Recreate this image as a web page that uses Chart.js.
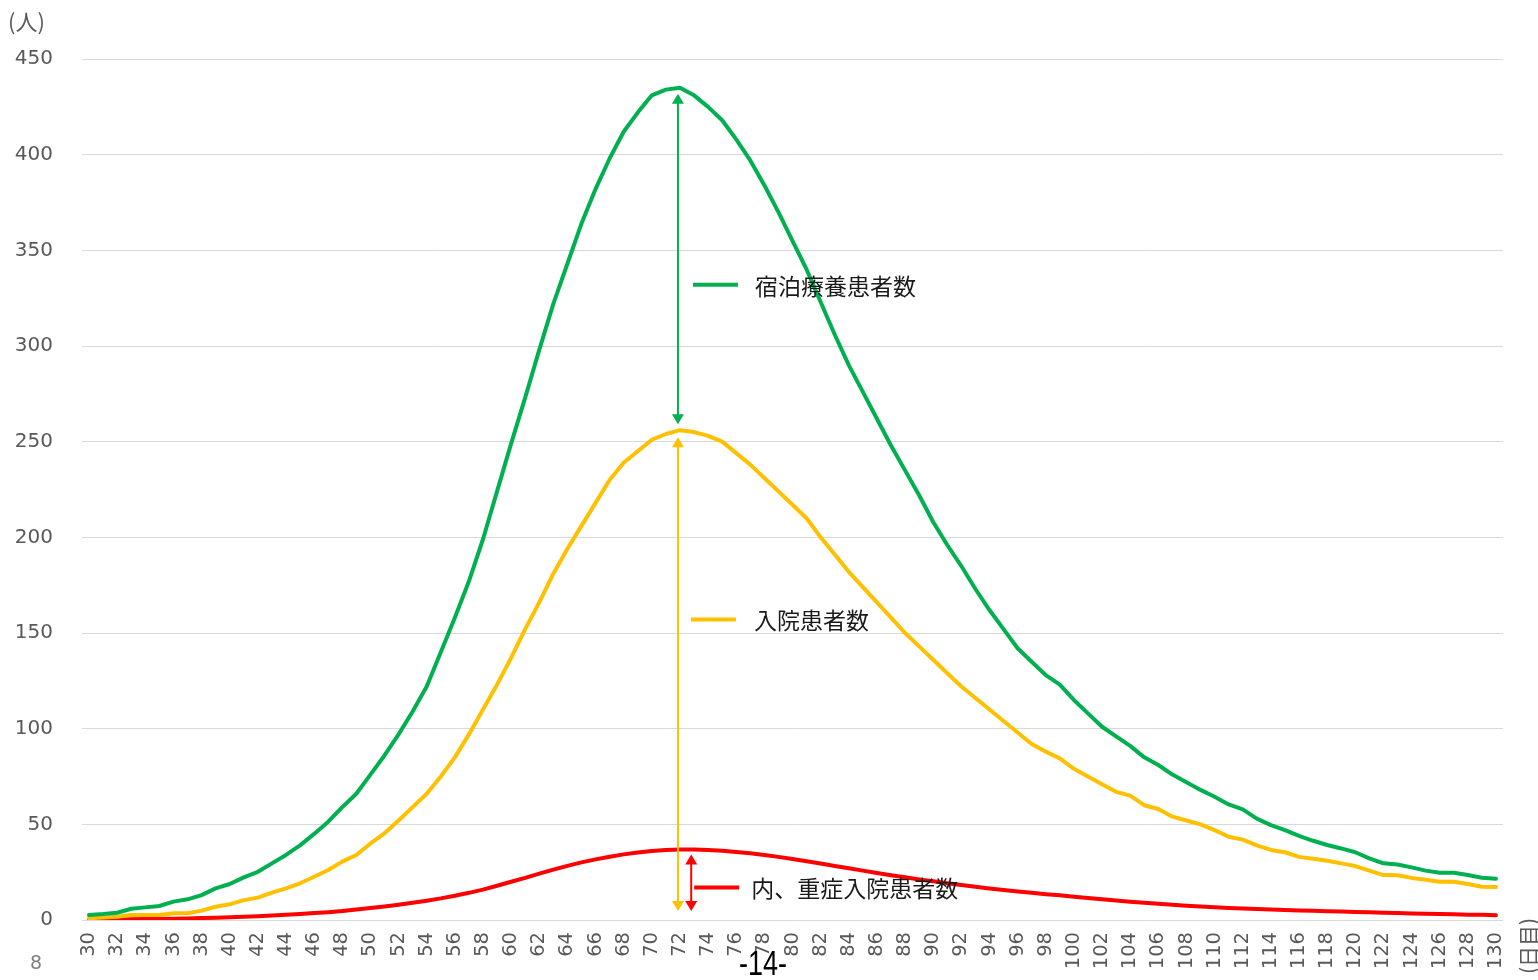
<!DOCTYPE html>
<html>
<head>
<meta charset="utf-8">
<script src="https://cdn.jsdelivr.net/npm/chart.js@4.4.1/dist/chart.umd.min.js"></script>
<style>
  html, body { margin: 0; padding: 0; background: #ffffff; overflow: hidden; }
  #wrap { position: relative; width: 1538px; height: 980px; }
</style>
</head>
<body>
<div id="wrap"><canvas id="c" width="1538" height="980"></canvas></div>
<script>
// 経過日数（日目）
const days = [
  30, 31, 32, 33, 34, 35, 36, 37, 38, 39,
  40, 41, 42, 43, 44, 45, 46, 47, 48, 49,
  50, 51, 52, 53, 54, 55, 56, 57, 58, 59,
  60, 61, 62, 63, 64, 65, 66, 67, 68, 69,
  70, 71, 72, 73, 74, 75, 76, 77, 78, 79,
  80, 81, 82, 83, 84, 85, 86, 87, 88, 89,
  90, 91, 92, 93, 94, 95, 96, 97, 98, 99,
  100, 101, 102, 103, 104, 105, 106, 107, 108, 109,
  110, 111, 112, 113, 114, 115, 116, 117, 118, 119,
  120, 121, 122, 123, 124, 125, 126, 127, 128, 129, 130
];

// 宿泊療養患者数（人）
const lodging = [
  2.6, 3.1, 3.8, 5.9, 6.6, 7.3, 9.6, 10.8, 13, 16.5,
  18.8, 22.3, 25.2, 29.6, 34, 39, 45, 51.4, 59, 66,
  76, 86, 97, 109, 122, 140, 158, 177, 199, 224,
  249, 273, 298, 322, 343, 364, 382, 398, 412, 422,
  431, 434, 435, 431, 425, 418, 408, 397, 384, 370,
  355, 340, 323, 306, 290, 276, 262, 248, 235, 222,
  208, 196, 185, 173, 162, 152, 142, 135, 128, 123,
  115, 108, 101, 96, 91, 85, 81, 76, 72, 68,
  64.4, 60.4, 57.8, 53, 49.6, 47, 44, 41.4, 39.2, 37.4,
  35.4, 32.2, 29.6, 29, 27.5, 25.8, 24.7, 24.7, 23.5, 22.1, 21.6
];

// 入院患者数（人）
const hospital = [
  0.9, 1.3, 1.7, 2.6, 2.6, 2.6, 3.5, 3.5, 4.9, 6.9,
  8.2, 10.4, 11.7, 14.3, 16.5, 19.2, 22.6, 26.1, 30.5, 34,
  40, 45.3, 52, 59, 66, 75, 85, 97, 110, 123,
  137, 152, 166, 181, 194, 206, 218, 230, 239, 245,
  251, 254, 256, 255, 253, 250, 244, 238, 231, 224,
  217, 210, 200, 191, 182, 174, 166, 158, 150, 143,
  136, 129, 122, 116, 110, 104, 98, 92, 88, 84.5,
  79, 75, 71, 67, 65, 60, 58, 54, 52, 50,
  47, 43.5, 42, 39, 36.6, 35.4, 33, 32, 31, 29.6,
  28.2, 25.8, 23.5, 23.4, 22, 21, 20, 20, 18.8, 17.4, 17.2
];

// 内、重症入院患者数（人）
const severe = [
  0.3, 0.3, 0.4, 0.4, 0.5, 0.6, 0.7, 0.8, 1.0, 1.2,
  1.4, 1.7, 2.0, 2.3, 2.7, 3.1, 3.6, 4.1, 4.7, 5.5,
  6.3, 7.1, 8.0, 9.0, 10.1, 11.3, 12.7, 14.2, 15.9, 17.9,
  20.0, 22.0, 24.2, 26.3, 28.3, 30.1, 31.7, 33.1, 34.3, 35.3,
  36.1, 36.6, 36.9, 36.9, 36.6, 36.2, 35.6, 34.9, 34.0, 33.0,
  31.9, 30.7, 29.5, 28.2, 27.0, 25.8, 24.6, 23.4, 22.3, 21.2,
  20.2, 19.2, 18.3, 17.4, 16.5, 15.7, 14.9, 14.2, 13.5, 12.9,
  12.2, 11.5, 10.8, 10.2, 9.6, 9.0, 8.5, 8.0, 7.5, 7.0,
  6.6, 6.3, 6.0, 5.7, 5.5, 5.2, 5.0, 4.8, 4.6, 4.4,
  4.2, 4.0, 3.8, 3.6, 3.4, 3.3, 3.1, 3.0, 2.8, 2.7, 2.5
];

// 縦軸の目盛
const yTicks = [0, 50, 100, 150, 200, 250, 300, 350, 400, 450];

// 系列名・色
const seriesNames = ['宿泊療養患者数', '入院患者数', '内、重症入院患者数'];
const seriesColors = ['#00B050', '#FFC000', '#FF0000'];

// ピーク日と、各ラベルを置く高さ（人）
const peakDay = 72;
const labelLevels = [332, 157, 17];

const GRAY = '#595959';
const TEXT = '#1a1a1a';
const CJK = '"Noto Sans CJK JP", "Noto Sans", sans-serif';

function drawArrowHead(ctx, x, tipY, dir, color) {
  // dir = -1 : 上向き, +1 : 下向き
  const h = 10, w = 6;
  ctx.fillStyle = color;
  ctx.beginPath();
  ctx.moveTo(x, tipY);
  ctx.lineTo(x - w, tipY - dir * h);
  ctx.lineTo(x + w, tipY - dir * h);
  ctx.closePath();
  ctx.fill();
}

function drawDoubleArrow(ctx, x, yTop, yBottom, color) {
  ctx.save();
  ctx.strokeStyle = color;
  ctx.lineWidth = 2;
  ctx.beginPath();
  ctx.moveTo(x, yTop + 8);
  ctx.lineTo(x, yBottom - 8);
  ctx.stroke();
  drawArrowHead(ctx, x, yTop, -1, color);
  drawArrowHead(ctx, x, yBottom, 1, color);
  ctx.restore();
}

const annotations = {
  id: 'annotations',
  afterDatasetsDraw(chart) {
    const { ctx, scales: { x, y } } = chart;
    const i = days.indexOf(peakDay);
    const px = x.getPixelForValue(i) - 2;
    const pxRed = x.getPixelForValue(i + 0.8);
    const yL = y.getPixelForValue(lodging[i]);
    const yH = y.getPixelForValue(hospital[i]);
    const yS = y.getPixelForValue(severe[i]);
    const y0 = y.getPixelForValue(0);

    drawDoubleArrow(ctx, px, yL + 6, yH - 6, seriesColors[0]);
    drawDoubleArrow(ctx, px, yH + 7, y0 - 9, seriesColors[1]);
    drawDoubleArrow(ctx, pxRed, yS + 5, y0 - 9, seriesColors[2]);

    const dashStart = [px + 15, px + 13, pxRed + 3];
    const textStart = [px + 77, px + 76, pxRed + 60];
    ctx.save();
    ctx.lineWidth = 4;
    ctx.font = '23px ' + CJK;
    ctx.textBaseline = 'middle';
    ctx.textAlign = 'left';
    for (let k = 0; k < 3; k++) {
      const ly = y.getPixelForValue(labelLevels[k]);
      ctx.strokeStyle = seriesColors[k];
      ctx.beginPath();
      ctx.moveTo(dashStart[k], ly);
      ctx.lineTo(dashStart[k] + 45, ly);
      ctx.stroke();
      ctx.fillStyle = TEXT;
      ctx.fillText(seriesNames[k], textStart[k], ly + 1);
    }
    ctx.restore();
  },
  afterDraw(chart) {
    const { ctx, scales: { x } } = chart;
    ctx.save();
    // 縦軸の単位
    ctx.fillStyle = GRAY;
    ctx.font = '22px ' + CJK;
    ctx.textBaseline = 'middle';
    ctx.textAlign = 'left';
    ctx.fillText('(人)', 8, 22);
    // 横軸の単位（縦書き）
    ctx.save();
    ctx.translate(x.right + 25, 946);
    ctx.rotate(-Math.PI / 2);
    ctx.textAlign = 'center';
    ctx.font = '21px ' + CJK;
    ctx.fillText('(日目)', 0, 0);
    ctx.restore();
    // ページ番号
    ctx.font = '19px "DejaVu Sans", sans-serif';
    ctx.fillStyle = '#7f7f7f';
    ctx.fillText('8', 30, 964);
    ctx.fillStyle = '#000000';
    ctx.font = '27px "Liberation Sans Narrow", "Liberation Sans", sans-serif';
    ctx.textAlign = 'center';
    ctx.save();
    ctx.translate(763, 965);
    ctx.scale(1, 1.3);
    ctx.fillText('-14-', 0, 0);
    ctx.restore();
    ctx.restore();
  }
};

new Chart(document.getElementById('c'), {
  type: 'line',
  data: {
    labels: days,
    datasets: seriesNames.map((name, k) => ({
      label: name,
      data: [lodging, hospital, severe][k],
      borderColor: seriesColors[k],
      backgroundColor: seriesColors[k],
      borderWidth: 4,
      pointRadius: 0,
      tension: 0,
      borderCapStyle: 'round',
      borderJoinStyle: 'round',
      fill: false
    }))
  },
  options: {
    responsive: false,
    animation: false,
    devicePixelRatio: 1,
    layout: { padding: { top: 59, right: 35, left: 0, bottom: 0 } },
    plugins: {
      legend: { display: false },
      tooltip: { enabled: false }
    },
    scales: {
      x: {
        type: 'category',
        offset: true,
        grid: { display: false, drawTicks: false },
        border: { display: false },
        afterFit(scale) { scale.height = 60; },
        ticks: {
          autoSkip: false,
          minRotation: 90,
          maxRotation: 90,
          padding: 12,
          color: GRAY,
          font: { family: '"DejaVu Sans", sans-serif', size: 19.5 },
          callback: (v, idx) => (days[idx] % 2 === 0 ? String(days[idx]) : null)
        }
      },
      y: {
        min: 0,
        max: 450,
        afterFit(scale) { scale.width = 82; },
        afterBuildTicks(scale) { scale.ticks = yTicks.map(v => ({ value: v })); },
        grid: { color: '#d9d9d9', lineWidth: 1, drawTicks: false },
        border: { display: false },
        ticks: {
          padding: 29,
          color: GRAY,
          font: { family: '"DejaVu Sans", sans-serif', size: 20 }
        }
      }
    }
  },
  plugins: [annotations]
});
</script>
</body>
</html>
